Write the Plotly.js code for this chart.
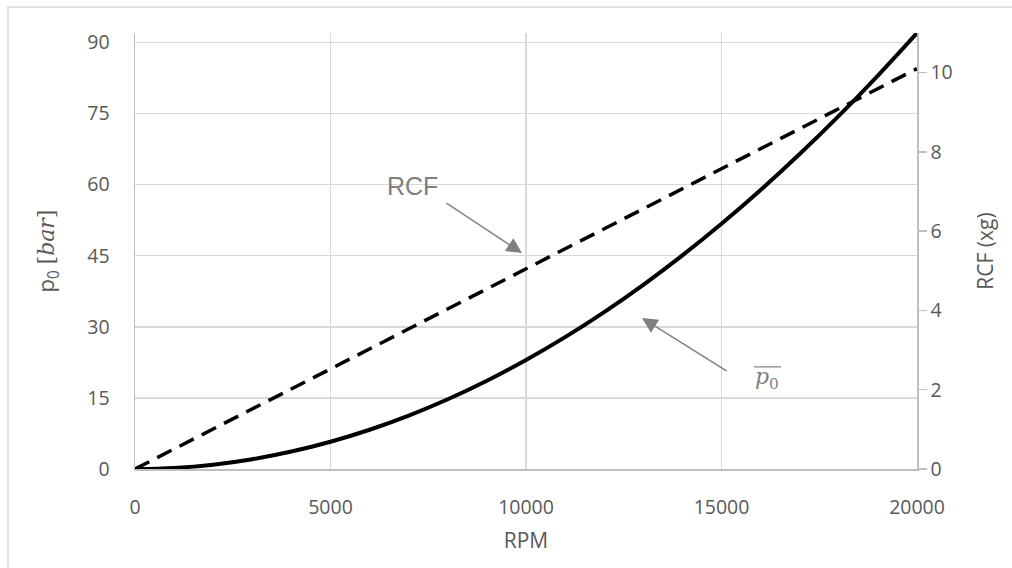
<!DOCTYPE html>
<html>
<head>
<meta charset="utf-8">
<script src="https://cdn.plot.ly/plotly-3.0.1.min.js"></script>
<style>html,body{margin:0;padding:0;background:#fff;}#chart{width:1012px;height:568px;}</style>
</head>
<body>
<div id="chart"></div>
<script>
// RPM sample points
const rpm = [0,1000,2000,3000,4000,5000,6000,7000,8000,9000,10000,11000,12000,13000,14000,15000,16000,17000,18000,19000,20000];
// mean pressure p0 [bar]
const p0 = [0,0.23,0.92,2.07,3.68,5.75,8.28,11.27,14.72,18.63,23.0,27.83,33.12,38.87,45.08,51.75,58.88,66.47,74.52,83.03,92.0];
// RCF (xg)
const rcfRpm = [0,5000,10000,15000,20000];
const rcf = [0,2.52,5.05,7.57,10.1];

const xTicks = [0,5000,10000,15000,20000];
const leftTicks = [0,15,30,45,60,75,90];
const rightTicks = [0,2,4,6,8,10];

const grey = '#595959';
const tickFont = {family:'Open Sans, sans-serif', size:19.5, color:grey};

const traces = [
  {x: rpm, y: p0, type:'scatter', mode:'lines', line:{color:'#000', width:4, shape:'spline'}, yaxis:'y', hoverinfo:'skip'},
  {x: rcfRpm, y: rcf, type:'scatter', mode:'lines', line:{color:'#000', width:3.5, dash:'16px,9px'}, yaxis:'y2', hoverinfo:'skip'}
];

// pixel -> data helpers for annotation placement
const px2x = p => (p-135)/782*20000;
const py2y = p => (469.3-p)/4.748;

const layout = {
  width:1012, height:568,
  margin:{l:135, r:95, t:33, b:99},
  paper_bgcolor:'#fff', plot_bgcolor:'#fff',
  showlegend:false,
  xaxis:{
    range:[0,20000], tickvals:xTicks, ticktext:xTicks.map(String),
    showgrid:true, gridcolor:'#d9d9d9', gridwidth:1.5,
    showline:true, linecolor:'#bfbfbf', linewidth:1.5,
    zeroline:false, ticks:'', ticklabelstandoff:20,
    tickfont:tickFont,
    title:{text:'RPM', font:{family:'Open Sans, sans-serif', size:21, color:grey}, standoff:14}
  },
  yaxis:{
    range:[0,92], tickvals:leftTicks, ticktext:leftTicks.map(String),
    showgrid:true, gridcolor:'#d9d9d9', gridwidth:1.5,
    showline:true, linecolor:'#bfbfbf', linewidth:1.5,
    zeroline:false, ticks:'', ticklabelstandoff:20,
    tickfont:tickFont,
    title:{text:'p<sub>0</sub> <span style="font-family:\'DejaVu Serif\',serif">[<i>bar</i>]</span>', font:{family:'Open Sans, sans-serif', size:22, color:grey}, standoff:26}
  },
  yaxis2:{
    overlaying:'y', side:'right', range:[0,11], tickvals:rightTicks, ticktext:rightTicks.map(String),
    showgrid:false, showline:true, linecolor:'#bfbfbf', linewidth:1.5,
    zeroline:false, ticks:'outside', ticklen:8, tickcolor:'#bfbfbf', tickwidth:1.5,
    tickfont:tickFont,
    title:{text:'RCF (xg)', font:{family:'Open Sans, sans-serif', size:21, color:grey}, standoff:26}
  },
  shapes:[
    {type:'rect', xref:'paper', yref:'paper', x0:-0.1624, x1:1.3, y0:-0.3, y1:1.0596, line:{color:'#d9d9d9', width:1.5}, fillcolor:'rgba(0,0,0,0)'},
    {type:'line', xref:'x', yref:'y', x0:px2x(754), x1:px2x(781), y0:py2y(367), y1:py2y(367), line:{color:'#7f7f7f', width:1.2}}
  ],
  annotations:[
    {x:px2x(412), y:py2y(186), xref:'x', yref:'y', text:'RCF', showarrow:false, font:{family:'Liberation Sans, Arial, sans-serif', size:25, color:'#7f7f7f'}},
    {x:px2x(522), y:py2y(253), xref:'x', yref:'y', ax:px2x(445), ay:py2y(202), axref:'x', ayref:'y', text:'', showarrow:true, arrowhead:2, arrowsize:2.2, arrowwidth:1.4, arrowcolor:'#7f7f7f'},
    {x:px2x(642), y:py2y(318), xref:'x', yref:'y', ax:px2x(728), ay:py2y(372), axref:'x', ayref:'y', text:'', showarrow:true, arrowhead:2, arrowsize:2.2, arrowwidth:1.4, arrowcolor:'#7f7f7f'},
    {x:px2x(767), y:py2y(379), xref:'x', yref:'y', text:'<i>p</i><sub>0</sub>', showarrow:false, font:{family:'DejaVu Serif, serif', size:22, color:'#7f7f7f'}}
  ]
};

Plotly.newPlot('chart', traces, layout, {staticPlot:true, displayModeBar:false});
</script>
</body>
</html>
